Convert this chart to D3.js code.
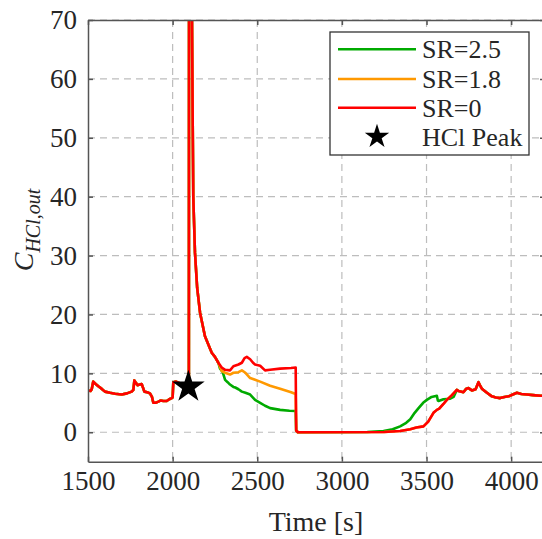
<!DOCTYPE html>
<html>
<head>
<meta charset="utf-8">
<script src="https://cdn.jsdelivr.net/npm/d3@7/dist/d3.min.js"></script>
<style>
body { margin: 0; background: #fff; }
text { font-family: "Liberation Serif", "Times New Roman", serif; fill: #262626; }
.grid line { stroke: #bdbdbd; stroke-width: 1.2; stroke-dasharray: 7,5; }
.axis path, .axis line { stroke: #555; stroke-width: 1.5; }
</style>
</head>
<body>
<div id="chart"></div>
<script>
// plot box in pixels
var width = 542,
    height = 539,
    plotL = 88, plotT = 20, plotR = 545, plotB = 461.7;

var xTicks = [1500, 2000, 2500, 3000, 3500, 4000];
var yTicks = [0, 10, 20, 30, 40, 50, 60, 70];

// shared part of all three runs (before the SR branches split)
var commonT = [1500,1515,1522,1531,1545,1561,1580,1600,1630,1660,1699,1730,1758,1768,1774,1785,1793,1805,1817,1826,1833,1850,1866,1878,1886,1900,1916,1930,1945,1965,1980,1995,2000,2004,2020,2034,2060,2080,2096,2098,2114,2118,2122,2132,2145,2162,2191,2231,2250,2270];
var commonV = [7.1,7.0,7.3,8.6,8.2,7.8,7.4,6.9,6.7,6.55,6.4,6.6,6.9,7.2,8.8,8.3,8.0,8.1,8.2,7.5,6.9,6.8,6.6,6.0,5.0,5.0,5.2,5.4,5.3,5.3,5.6,5.8,5.9,8.5,8.6,8.4,8.1,8.0,8.2,150,72,55,40,30.5,24.5,20.3,16.3,13.5,12.8,11.8];

// decay after the split, until the drop to zero
var redDecayT = [2290,2310,2339,2359,2389,2409,2425,2438,2458,2475,2487,2517,2546,2576,2635,2700,2727,2730,2740];
var redDecayV = [11.0,10.6,10.5,11.2,11.5,11.8,12.6,12.8,12.4,11.8,11.5,11.3,10.5,10.6,10.8,10.9,11.0,0.3,0];
var orangeDecayT = [2290,2310,2339,2359,2389,2409,2430,2458,2487,2517,2576,2635,2700,2727,2730,2740];
var orangeDecayV = [10.4,10.1,9.8,10.1,10.2,10.5,10.1,9.2,8.9,8.6,7.9,7.4,6.8,6.5,0.3,0];
var greenDecayT = [2280,2295,2310,2325,2339,2359,2370,2389,2409,2430,2458,2487,2517,2546,2576,2635,2690,2727,2730,2740];
var greenDecayV = [10.8,10.3,8.9,8.5,8.1,7.7,7.6,7.3,6.9,6.7,6.4,5.5,5.0,4.5,4.1,3.8,3.65,3.6,0.3,0];

// recovery
var redRecT = [3250,3344,3404,3440,3482,3510,3541,3561,3575,3600,3620,3650,3679,3690,3718,3735,3748,3768,3790,3807,3815,3827,3857,3886,3910,3935,3960,3985,4010,4034,4060,4093,4130,4172,4200];
var redRecV = [0.05,0.2,0.5,0.8,1.0,1.8,3.3,3.8,4.0,4.8,5.5,6.3,7.2,7.0,6.8,7.4,7.5,7.1,7.3,8.5,8.0,7.4,6.7,6.1,5.9,5.8,6.0,6.1,6.4,6.7,6.5,6.4,6.3,6.2,6.2];
var greenRecT = [3150,3246,3300,3344,3380,3404,3430,3453,3480,3502,3530,3561,3567,3571,3600,3640,3660,3679];
var greenRecV = [0.05,0.2,0.5,1.0,1.6,2.2,3.3,4.1,5.0,5.5,6.0,6.2,5.4,5.3,5.6,5.7,6.0,7.2];

var peakT = 2093, peakV = 7.7;

var labels = ["SR=2.5", "SR=1.8", "SR=0", "HCl Peak"];
var colors = ["#00aa00", "#ff9900", "#ff0000"];

function pts(t, v) { return t.map(function(d, i) { return [d, v[i]]; }); }

var red = pts(commonT, commonV).concat(pts(redDecayT, redDecayV), pts(redRecT, redRecV));
var orange = pts(commonT, commonV).concat(pts(orangeDecayT, orangeDecayV), pts(redRecT, redRecV));
var green = pts(commonT, commonV).concat(pts(greenDecayT, greenDecayV), pts(greenRecT, greenRecV),
    pts(redRecT, redRecV).filter(function(d) { return d[0] > 3679; }));

var x = d3.scaleLinear().domain([1500, 4200]).range([plotL, plotR]);
var y = d3.scaleLinear().domain([-5, 70]).range([plotB, plotT]);

var svg = d3.select("#chart").append("svg")
    .attr("width", width)
    .attr("height", height);

svg.append("clipPath").attr("id", "clip")
  .append("rect")
    .attr("x", plotL).attr("y", plotT)
    .attr("width", plotR - plotL).attr("height", plotB - plotT);

// grid
var grid = svg.append("g").attr("class", "grid");
grid.selectAll(".gx").data(xTicks.slice(1)).enter().append("line")
    .attr("x1", function(d) { return x(d); }).attr("x2", function(d) { return x(d); })
    .attr("y1", plotT).attr("y2", plotB);
grid.selectAll(".gy").data(yTicks).enter().append("line")
    .attr("x1", plotL).attr("x2", plotR)
    .attr("y1", function(d) { return y(d); }).attr("y2", function(d) { return y(d); });

// data lines
var line = d3.line().x(function(d) { return x(d[0]); }).y(function(d) { return y(d[1]); });
var g = svg.append("g").attr("clip-path", "url(#clip)");
[green, orange, red].forEach(function(s, i) {
    g.append("path")
        .datum(s)
        .attr("fill", "none")
        .attr("stroke", colors[i])
        .attr("stroke-width", 2.6)
        .attr("stroke-linejoin", "round")
        .attr("d", line);
});

var star = d3.symbol().type(d3.symbolStar);
g.append("path")
    .attr("d", star.size(330)())
    .attr("transform", "translate(" + x(peakT) + "," + y(peakV) + ")")
    .attr("fill", "#000");

// axes
svg.append("g").attr("class", "axis")
    .attr("transform", "translate(0," + plotB + ")")
    .call(d3.axisBottom(x).tickValues(xTicks).tickFormat(d3.format("d")).tickSizeInner(-5).tickSizeOuter(0).tickPadding(9))
    .selectAll("text").style("font-size", "27px").attr("fill", "#262626");
svg.append("g").attr("class", "axis")
    .attr("transform", "translate(" + plotL + ",0)")
    .call(d3.axisLeft(y).tickValues(yTicks).tickSizeInner(-5).tickSizeOuter(0).tickPadding(11))
    .selectAll("text").style("font-size", "27px").attr("fill", "#262626");
svg.append("g").attr("class", "axis")
    .attr("transform", "translate(0," + plotT + ")")
    .call(d3.axisTop(x).tickValues(xTicks).tickSizeInner(-5).tickSizeOuter(0).tickFormat(""));
svg.append("g").attr("class", "axis")
    .attr("transform", "translate(" + plotR + ",0)")
    .call(d3.axisRight(y).tickValues(yTicks).tickSizeInner(-5).tickSizeOuter(0).tickFormat(""));

// axis titles
svg.append("text")
    .attr("x", 316).attr("y", 531)
    .attr("text-anchor", "middle")
    .style("font-size", "28px")
    .text("Time [s]");

var yl = svg.append("text")
    .attr("transform", "translate(33,230) rotate(-90)")
    .attr("text-anchor", "middle")
    .style("font-style", "italic");
yl.append("tspan").style("font-size", "28px").text("C");
yl.append("tspan").style("font-size", "20px").attr("dy", 7).text("HCl,out");

// legend
svg.append("rect")
    .attr("x", 330).attr("y", 32)
    .attr("width", 199).attr("height", 123)
    .attr("fill", "#fff").attr("stroke", "#333").attr("stroke-width", 1.3);

function legend(yy, text, color) {
    if (color) {
        svg.append("line")
            .attr("x1", 338).attr("x2", 416)
            .attr("y1", yy).attr("y2", yy)
            .attr("stroke", color).attr("stroke-width", 2.6);
    } else {
        svg.append("path")
            .attr("d", star.size(185)())
            .attr("transform", "translate(377," + yy + ")")
            .attr("fill", "#000");
    }
    svg.append("text")
        .attr("x", 422).attr("y", yy)
        .attr("dy", "0.35em")
        .style("font-size", "26px")
        .text(text);
}
legend(49.3, labels[0], colors[0]);
legend(79, labels[1], colors[1]);
legend(107.7, labels[2], colors[2]);
legend(136.7, labels[3], null);
</script>
</body>
</html>
